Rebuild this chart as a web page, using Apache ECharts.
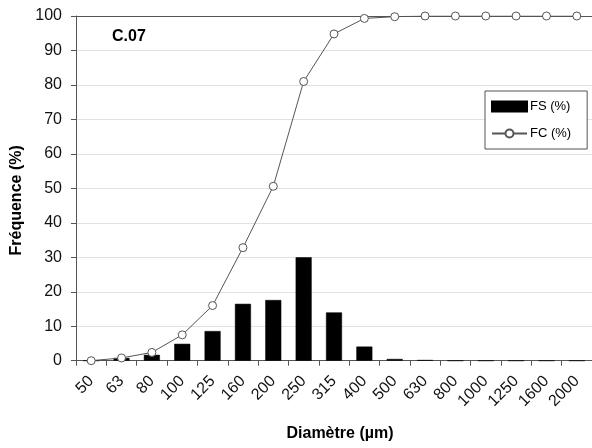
<!DOCTYPE html>
<html>
<head>
<meta charset="utf-8">
<script src="https://cdn.jsdelivr.net/npm/echarts@6/dist/echarts.min.js"></script>
<style>
  html, body { margin: 0; padding: 0; background: #fff; }
  #chart { width: 592px; height: 448px; }
</style>
</head>
<body>
<div id="chart"></div>
<script>
// Sieve classes (µm)
const diameters = ['50', '63', '80', '100', '125', '160', '200', '250', '315', '400', '500', '630', '800', '1000', '1250', '1600', '2000'];
// Fréquence simple (%) per class
const fsValues = [0, 0.8, 1.7, 4.9, 8.6, 16.5, 17.6, 30.0, 14.0, 4.1, 0.5, 0.2, 0, 0, 0, 0, 0];
// Fréquence cumulée (%)
const fcValues = [0, 0.8, 2.4, 7.5, 16.0, 32.8, 50.6, 81.0, 94.8, 99.3, 99.8, 100, 100, 100, 100, 100, 100];
// Y tick range
const yMin = 0, yMax = 100, yStep = 10;

const FONT = 'Liberation Sans, Arial, sans-serif';
const chart = echarts.init(document.getElementById('chart'), null, { renderer: 'canvas' });

chart.setOption({
  backgroundColor: '#fff',
  animation: false,
  title: {
    text: 'C.07',
    left: 107, top: 24,
    textStyle: { fontFamily: FONT, fontSize: 16, fontWeight: 'bold', color: '#000' }
  },
  grid: { left: 76, top: 16, width: 517, height: 344.7, containLabel: false },
  legend: {
    orient: 'vertical',
    left: 485, top: 91,
    padding: [9, 16, 9, 6],
    itemGap: 14,
    itemWidth: 35,
    itemHeight: 10,
    backgroundColor: '#fff',
    borderColor: '#555',
    borderWidth: 1,
    borderRadius: 0,
    textStyle: { fontFamily: FONT, fontSize: 13, color: '#000', padding: [0, 0, 0, -2] },
    data: [{ name: 'FS (%)', icon: 'rect' }, { name: 'FC (%)' }]
  },
  xAxis: [{
    type: 'category',
    data: diameters,
    name: 'Diamètre (µm)',
    nameLocation: 'middle',
    nameGap: 65,
    nameTextStyle: { fontFamily: FONT, fontSize: 16, fontWeight: 'bold', color: '#000', padding: [0, 0, 0, 12] },
    axisLine: { lineStyle: { color: '#555', width: 1 } },
    axisTick: { show: true, length: 5, lineStyle: { color: '#555' } },
    axisLabel: { rotate: 45, fontFamily: FONT, fontSize: 16, color: '#111', margin: 18 },
    splitLine: { show: false }
  }, {
    // top frame line of the plot area
    type: 'category',
    position: 'top',
    data: diameters,
    axisLine: { lineStyle: { color: '#555', width: 1 } },
    axisTick: { show: false },
    axisLabel: { show: false }
  }],
  yAxis: {
    type: 'value',
    min: yMin, max: yMax, interval: yStep,
    name: 'Fréquence (%)',
    nameLocation: 'middle',
    nameGap: 51,
    nameTextStyle: { fontFamily: FONT, fontSize: 16, fontWeight: 'bold', color: '#000', padding: [0, 24, 0, 0] },
    axisLine: { show: true, lineStyle: { color: '#555', width: 1 } },
    axisTick: { show: true, length: 5, lineStyle: { color: '#555' } },
    axisLabel: { fontFamily: FONT, fontSize: 16, color: '#111', margin: 14 },
    splitLine: { show: true, lineStyle: { color: '#e2e2e2', width: 1 } }
  },
  series: [{
    name: 'FS (%)',
    type: 'bar',
    data: fsValues,
    barWidth: 16,
    itemStyle: { color: '#000', borderColor: '#000', borderWidth: 0.5 },
    z: 2
  }, {
    name: 'FC (%)',
    type: 'line',
    data: fcValues,
    symbol: 'circle',
    symbolSize: 8,
    showAllSymbol: true,
    lineStyle: { color: '#555', width: 1 },
    itemStyle: { color: '#fff', borderColor: '#555', borderWidth: 1 },
    z: 3
  }]
});
</script>
</body>
</html>
